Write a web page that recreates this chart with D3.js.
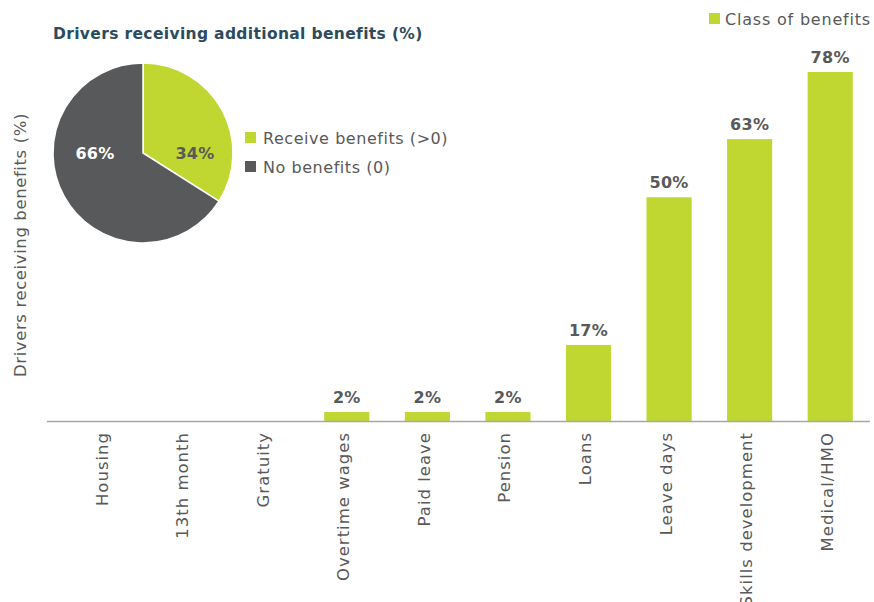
<!DOCTYPE html>
<html>
<head>
<meta charset="utf-8">
<script src="https://cdn.jsdelivr.net/npm/d3@7"></script>
<style>
  body { margin: 0; background: #fff; }
  text { font-family: "DejaVu Sans", sans-serif; }
</style>
</head>
<body>
<div id="chart"></div>
<script>
// bar chart data
var categories = ["Housing", "13th month", "Gratuity", "Overtime wages", "Paid leave",
                  "Pension", "Loans", "Leave days", "Skills development", "Medical/HMO"];
var values = [0, 0, 0, 2, 2, 2, 17, 50, 63, 78];

// pie data
var pieLabels = ["Receive benefits (>0)", "No benefits (0)"];
var pieValues = [34, 66];

var green = "#bfd730",
    dark = "#58595b",
    grey = "#595959";

var width = 874, height = 602;

var svg = d3.select("#chart").append("svg")
  .attr("width", width).attr("height", height);

var x = d3.scaleBand().domain(categories).range([64.8, 870.5]).paddingInner(0.44).paddingOuter(0.22);
var y = d3.scaleLinear().domain([0, 78]).range([421, 72]);

// bars
svg.selectAll("rect.bar")
  .data(values)
  .enter().append("rect")
  .attr("class", "bar")
  .attr("x", function (d, i) { return x(categories[i]); })
  .attr("width", x.bandwidth())
  .attr("y", function (d) { return y(d); })
  .attr("height", function (d) { return y(0) - y(d); })
  .attr("fill", green);

// value labels (only for bars above zero)
values.forEach(function (d, i) {
  if (d <= 0) return;
  svg.append("text")
    .attr("x", x(categories[i]) + x.bandwidth() / 2)
    .attr("y", y(d) - 9)
    .attr("text-anchor", "middle")
    .attr("font-size", 16)
    .attr("font-weight", "bold")
    .attr("letter-spacing", 0.3)
    .attr("fill", grey)
    .text(d + "%");
});

// x axis
var xAxis = svg.append("g")
  .attr("transform", "translate(0,421)")
  .call(d3.axisBottom(x).tickSize(0).tickPadding(0));
xAxis.select(".domain").remove();
svg.append("line")
  .attr("x1", 47).attr("x2", 870)
  .attr("y1", 421.5).attr("y2", 421.5)
  .attr("stroke", "#a6a6a6").attr("stroke-width", 1.5);
xAxis.selectAll(".tick text")
  .attr("transform", "rotate(-90)")
  .attr("x", -11)
  .attr("y", 0)
  .attr("dy", "0.15em")
  .attr("text-anchor", "end")
  .attr("font-size", 16.5)
  .attr("letter-spacing", 1)
  .attr("font-family", "DejaVu Sans, sans-serif")
  .attr("fill", grey);

// y axis title
svg.append("text")
  .attr("transform", "translate(26,245) rotate(-90)")
  .attr("text-anchor", "middle")
  .attr("font-size", 16.5)
  .attr("letter-spacing", 0.6)
  .attr("fill", grey)
  .text("Drivers receiving benefits (%)");

// bar legend
svg.append("rect").attr("x", 709).attr("y", 13).attr("width", 11).attr("height", 11).attr("fill", green);
svg.append("text").attr("x", 725).attr("y", 25).attr("font-size", 16)
  .attr("letter-spacing", 0.8).attr("fill", grey).text("Class of benefits");

// pie
svg.append("text")
  .attr("x", 53).attr("y", 39)
  .attr("font-size", 15.5)
  .attr("font-weight", "bold")
  .attr("letter-spacing", 0.35)
  .attr("fill", "#2b4c5e")
  .text("Drivers receiving additional benefits (%)");

var cx = 143, cy = 153, r = 90;
var pie = d3.pie().sort(null)(pieValues);
var arc = d3.arc().innerRadius(0).outerRadius(r);
var pg = svg.append("g").attr("transform", "translate(" + cx + "," + cy + ")");
pg.selectAll("path")
  .data(pie)
  .enter().append("path")
  .attr("d", arc)
  .attr("fill", function (d, i) { return i === 0 ? green : dark; })
  .attr("stroke", "#fff")
  .attr("stroke-width", 1.5);

var labelPos = [[52, 6], [-48, 6]];
pie.forEach(function (d, i) {
  pg.append("text")
    .attr("x", labelPos[i][0]).attr("y", labelPos[i][1])
    .attr("text-anchor", "middle")
    .attr("font-size", 16)
    .attr("font-weight", "bold")
    .attr("letter-spacing", 0.3)
    .attr("fill", i === 0 ? grey : "#fff")
    .text(pieValues[i] + "%");
});

pieLabels.forEach(function (l, i) {
  svg.append("rect").attr("x", 245).attr("y", 132 + i * 29).attr("width", 11).attr("height", 11)
    .attr("fill", i === 0 ? green : dark);
  svg.append("text").attr("x", 263).attr("y", 144 + i * 29).attr("font-size", 16)
    .attr("letter-spacing", 0.55).attr("fill", grey).text(l);
});
</script>
</body>
</html>
